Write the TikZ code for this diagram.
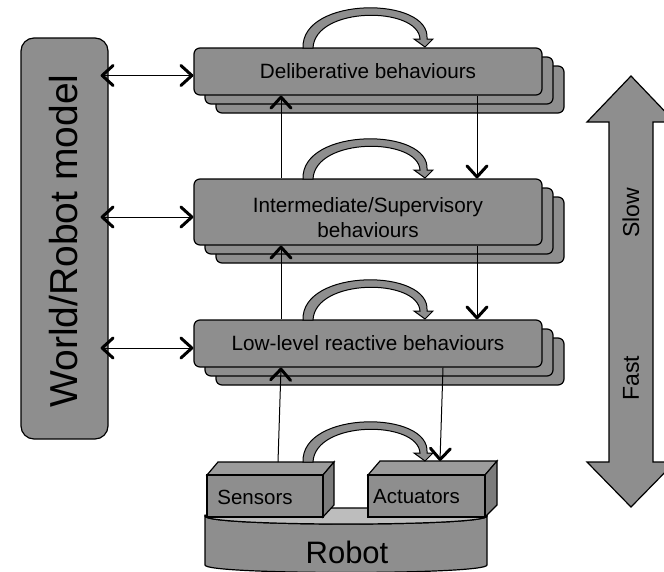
\documentclass[tikz,border=0pt]{standalone}
\usepackage{fontspec}
\setmainfont{Liberation Sans}
\usetikzlibrary{arrows.meta,calc}
\definecolor{boxgray}{HTML}{8E8E8E}
\definecolor{topgray}{HTML}{9C9C9C}
\definecolor{sidegray}{HTML}{7C7C7C}
\definecolor{disctop}{HTML}{BDBDBD}
\begin{document}
\begin{tikzpicture}[x=1pt,y=-1pt,
  outl/.style={draw=black, line width=1.2pt},
  behav/.style={outl, fill=boxgray, rounded corners=6pt, minimum width=348pt,
    inner sep=0pt, align=center, font=\fontsize{20.7}{25}\selectfont},
  shadowbox/.style={outl, fill=boxgray, rounded corners=6pt},
  face/.style={outl, fill=boxgray, inner sep=0pt, minimum height=42pt},
  lbl/.style={font=\fontsize{20.5}{24}\selectfont},
  barb/.tip={Straight Barb[length=11pt,width=20pt,line width=3pt,round]},
  conn/.style={line width=1pt, -barb},
  biarr/.style={line width=1pt, barb-barb},
  looparr/.pic={
    \filldraw[outl, fill=boxgray, line width=1pt]
      (0,0) .. controls (-2,-52) and (128,-52) .. (124,-9)
      -- (130,-9) -- (122,-1) -- (111,-9) -- (117,-9)
      .. controls (115,-42) and (12,-42) .. (10,0) -- cycle;
  }
]
\useasboundingbox (0,0) rectangle (664,571);

% world / robot model
\node[outl, fill=boxgray, rounded corners=13pt, minimum width=87pt,
  minimum height=401pt, inner sep=0pt] (wm) at (64.5,238.5) {};
\node[rotate=90, font=\fontsize{39}{39}\selectfont] (wmtext) at (64,241) {World/Robot model};

% stacked copies behind each behaviour layer
\foreach \ya/\yb in {48/95, 179/245, 320/367} {
  \draw[shadowbox] (216,\ya+18) rectangle (564,\yb+18);
  \draw[shadowbox] (205,\ya+9) rectangle (553,\yb+9);
}

% behaviour layers
\node[behav, minimum height=47pt] (delib) at (368,71.5) {Deliberative behaviours};
\node[behav, minimum height=66pt] (inter) at (368,212) {};
\node[align=center, font=\fontsize{20.7}{25}\selectfont] (intertext) at (368,218) {Intermediate/Supervisory\\behaviours};
\node[behav, minimum height=47pt] (low) at (368,343.5) {Low-level reactive behaviours};

% robot base disc
\filldraw[outl, fill=boxgray] (205,516) -- (205,565)
  .. controls (205,575) and (487,575) .. (487,565) -- (487,516)
  .. controls (487,526.7) and (205,526.7) .. (205,516) -- cycle;
\filldraw[outl, fill=disctop] (205,516)
  .. controls (205,526.7) and (487,526.7) .. (487,516)
  .. controls (487,505.3) and (205,505.3) .. (205,516) -- cycle;
\node[font=\fontsize{31}{31}\selectfont] (robotlbl) at (347,552) {Robot};

% sensor and actuator blocks
\filldraw[outl, fill=topgray] (207,475) -- (218,462) -- (334,462) -- (323,475) -- cycle;
\filldraw[outl, fill=sidegray] (323,475) -- (334,462) -- (334,505) -- (323,517) -- cycle;
\node[face, minimum width=116pt] (sens) at (265,496) {};
\node[lbl] (senslbl) at (255,497) {Sensors};

\filldraw[outl, fill=topgray] (368,475) -- (380,461) -- (497,461) -- (485,475) -- cycle;
\filldraw[outl, fill=sidegray] (485,475) -- (497,461) -- (497,505) -- (485,517) -- cycle;
\node[face, minimum width=117pt] (act) at (426.5,496) {};
\node[lbl] (actlbl) at (416.5,497) {Actuators};

% speed scale
\filldraw[outl, fill=boxgray] (631,76) -- (675,122) -- (653,122) -- (653,462)
  -- (675,462) -- (631,507) -- (587,462) -- (609,462) -- (609,122)
  -- (587,122) -- cycle;
\node[rotate=90, font=\fontsize{23}{23}\selectfont] (slow) at (631,213) {Slow};
\node[rotate=90, font=\fontsize{23}{23}\selectfont] (fast) at (631,378) {Fast};

% self loops
\pic at (303,48) {looparr};
\pic at (303,179) {looparr};
\pic at (303,320) {looparr};
\pic at (303,462) {looparr};

% links with the world model
\draw[biarr] ($(wm.east |- delib.west)+(-8,4)$) -- ($(delib.west)+(0,4)$);
\draw[biarr] ($(wm.east |- inter.west)+(-8,5)$) -- ($(inter.west)+(0,5)$);
\draw[biarr] ($(wm.east |- low.west)+(-8,4.5)$) -- ($(low.west)+(0,4.5)$);

% vertical flow between layers
\coordinate (cl) at (281,0);
\coordinate (cr) at (477,0);
\coordinate (senstop) at (278,462);
\coordinate (acttop) at (440,461);
\draw[conn] (inter.north -| cl) -- (delib.south -| cl);
\draw[conn] (delib.south -| cr) -- (inter.north -| cr);
\draw[conn] (low.north -| cl) -- (inter.south -| cl);
\draw[conn] (inter.south -| cr) -- (low.north -| cr);
\draw[conn] (senstop) -- (low.south -| cl);
\draw[conn] ($(low.south)+(75,0)$) -- (acttop);
\end{tikzpicture}
\end{document}
